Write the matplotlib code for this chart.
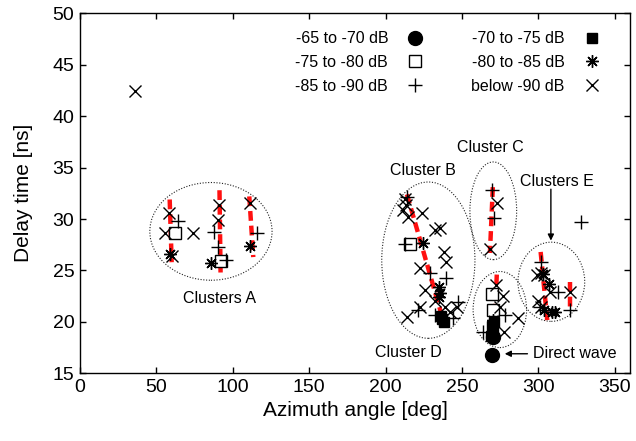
import matplotlib
matplotlib.use("Agg")
import matplotlib.pyplot as plt
from matplotlib.patches import Ellipse
import numpy as np

plt.rcParams['font.family'] = ['Liberation Sans', 'DejaVu Sans']

# received power classes (azimuth [deg], delay [ns])
circ_az = [269.8, 270.2]
circ_dl = [16.8, 18.5]

fsq_az = [237.0, 238.0, 236.2, 269.5, 270.6, 269.2, 271.0]
fsq_dl = [20.3, 20.0, 20.6, 19.6, 19.1, 18.6, 20.0]

osq_az = [62.0, 92.6, 216.0, 269.8, 270.3]
osq_dl = [28.6, 25.9, 27.6, 22.7, 21.2]

ast_az = [59.0, 86.0, 111.0, 224.5, 235.2, 235.8, 235.0, 270.5,
          303.0, 307.0, 304.0, 309.0, 310.8]
ast_dl = [26.6, 25.7, 27.4, 27.7, 23.4, 22.8, 22.4, 20.2,
          24.7, 23.7, 21.2, 21.0, 21.0]

plus_az = [64.0, 88.0, 90.0, 95.5, 116.0,
           214.0, 213.0, 229.0, 239.6, 221.5, 232.4, 247.5, 244.0,
           269.6, 271.0, 278.0, 263.5,
           302.0, 313.0, 301.0, 320.5, 328.0]
plus_dl = [29.8, 28.7, 27.3, 26.0, 28.6,
           32.1, 27.6, 24.8, 24.3, 21.2, 20.7, 21.9, 20.4,
           32.8, 30.1, 20.7, 19.0,
           25.8, 22.9, 21.4, 21.2, 29.7]

x_az = [35.9,
        58.0, 55.4, 73.7, 60.0, 91.3, 90.6, 111.0,
        213.0, 213.5, 211.6, 215.0, 224.0, 232.4, 235.7, 238.0, 239.6,
        222.6, 226.0, 232.4, 222.6, 214.0, 239.0, 242.0, 246.8,
        272.8, 268.3,
        272.2, 276.7, 274.8, 286.6, 277.4,
        299.0, 302.0, 304.0, 307.5, 320.5, 299.6, 302.0]
x_dl = [42.4,
        30.6, 28.6, 28.6, 26.4, 31.4, 29.9, 31.6,
        31.9, 31.4, 30.9, 30.2, 30.6, 28.9, 29.1, 26.8, 25.8,
        25.2, 23.1, 22.0, 21.4, 20.5, 21.4, 21.0, 21.4,
        31.6, 27.1,
        23.6, 22.5, 21.4, 20.4, 19.0,
        24.6, 24.8, 24.6, 22.9, 22.9, 22.0, 21.4]

# fitted delay/azimuth trends inside each cluster
trend_az = [(58.7, 60.0), (91.3, 92.0), (110.8, 113.4), (214.0, 237.6),
            (270.2, 268.3), (272.8, 270.9), (301.5, 306.0), (321.0, 321.0)]
trend_dl = [(31.9, 25.8), (32.8, 24.8), (32.2, 26.3), (32.4, 20.2),
            (33.1, 26.7), (24.6, 18.0), (26.8, 19.9), (23.9, 21.4)]

# cluster outlines: centre az, centre delay, width, height
clusters = [(85.7, 28.8, 80.0, 9.5),
            (228.0, 26.0, 61.0, 15.2),
            (270.5, 30.8, 30.6, 9.5),
            (274.8, 21.2, 35.0, 7.4),
            (308.5, 23.9, 43.7, 7.7)]

fig = plt.figure(figsize=(6.36, 4.41), dpi=100)
ax = fig.add_axes([0.1258, 0.1535, 0.8648, 0.8163])

for xs, ys in zip(trend_az, trend_dl):
    ax.plot(xs, ys, color='#ff1010', lw=3.2, dashes=(2.2, 1.1), zorder=2,
            solid_capstyle='butt', dash_capstyle='butt')

for cx, cy, w, h in clusters:
    ax.add_patch(Ellipse((cx, cy), w, h, fill=False, ec='#222222', lw=0.8,
                         ls=(0, (1, 1.5)), zorder=1))

mk = dict(ls='none', color='black', zorder=3)
h1, = ax.plot(circ_az, circ_dl, 'o', ms=10, **mk, label='-65 to -70 dB')
h2, = ax.plot(osq_az, osq_dl, 's', ms=9, mfc='white', mew=1.0, **mk, label='-75 to -80 dB')
h3, = ax.plot(plus_az, plus_dl, '+', ms=10, mew=1.0, **mk, label='-85 to -90 dB')
h4, = ax.plot(fsq_az, fsq_dl, 's', ms=7.5, **mk, label='-70 to -75 dB')
h5, = ax.plot(ast_az, ast_dl, marker=(8, 2, 0), ms=9, mew=1.0, **mk, label='-80 to -85 dB')
h6, = ax.plot(x_az, x_dl, 'x', ms=8, mew=1.0, **mk, label='below -90 dB')

ax.legend(handles=[h1, h2, h3, h4, h5, h6], ncol=2, markerfirst=False,
          frameon=False, loc='upper right', bbox_to_anchor=(0.971, 0.99),
          fontsize=11.5, handlelength=1.0, handletextpad=1.2,
          columnspacing=3.0, labelspacing=0.55)

ax.text(91.6, 22.3, 'Clusters A', fontsize=11.5, ha='center', va='center')
ax.text(224.5, 34.7, 'Cluster B', fontsize=11.5, ha='center', va='center')
ax.text(268.3, 37.0, 'Cluster C', fontsize=11.5, ha='center', va='center')
ax.text(215.0, 17.0, 'Cluster D', fontsize=11.5, ha='center', va='center')
ax.text(312.0, 33.6, 'Clusters E', fontsize=11.5, ha='center', va='center')
ax.annotate('', xy=(308.2, 27.9), xytext=(308.2, 32.9),
            arrowprops=dict(arrowstyle='-|>', color='black', lw=1.0,
                            mutation_scale=9, shrinkA=0, shrinkB=0))
ax.annotate('Direct wave', xy=(278.0, 16.9), xytext=(296.5, 16.9),
            fontsize=11.5, va='center', ha='left',
            arrowprops=dict(arrowstyle='-|>', color='black', lw=1.0,
                            mutation_scale=9, shrinkA=2, shrinkB=0))

ax.set_xlim(0, 360)
ax.set_ylim(15, 50)
ax.set_xticks(np.arange(0, 351, 50))
ax.set_yticks(np.arange(15, 51, 5))
ax.tick_params(direction='in', length=4, width=1.0, top=True, right=True,
               labelsize=14, pad=4)
for s in ax.spines.values():
    s.set_linewidth(1.0)
ax.set_xlabel('Azimuth angle [deg]', fontsize=15)
ax.set_ylabel('Delay time [ns]', fontsize=15, labelpad=14)

fig.savefig('out.png', dpi=100)
